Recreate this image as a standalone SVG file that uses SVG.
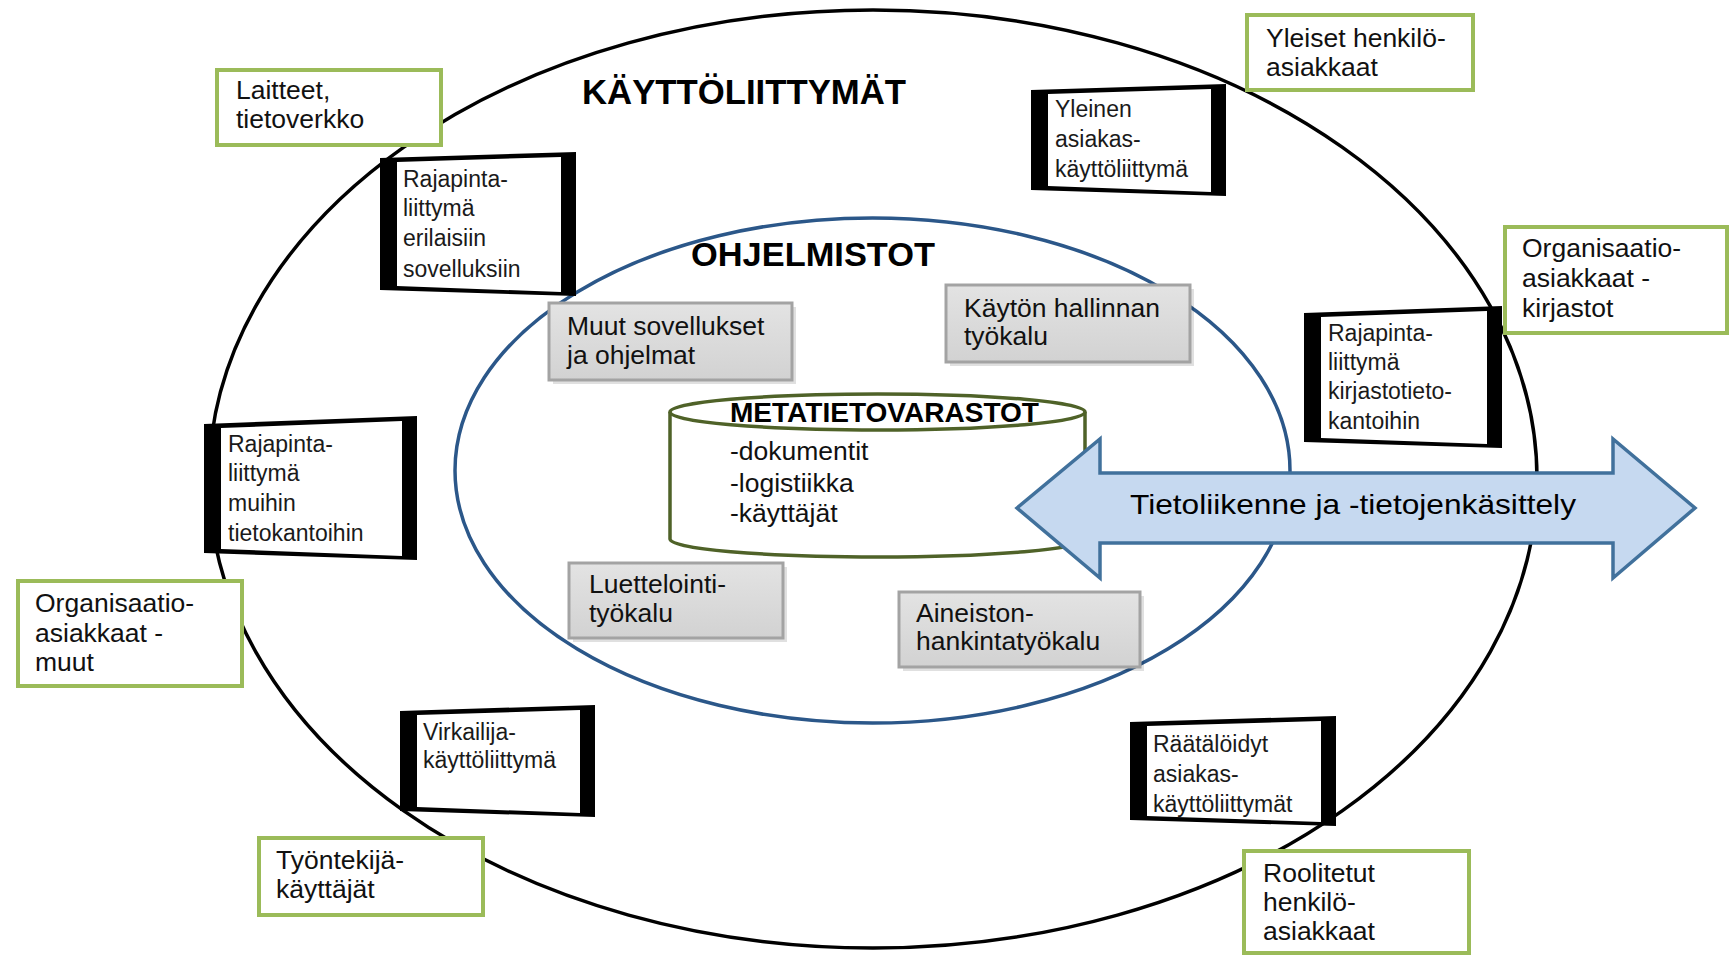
<svg xmlns="http://www.w3.org/2000/svg" width="1729" height="956" viewBox="0 0 1729 956">
<defs>
<style>
text{font-family:"Liberation Sans",Arial,sans-serif;fill:#000}
.title{font-weight:bold}
.g{font-size:26.5px;fill:#111}
.s{font-size:23px;fill:#1a1a1a}
.gb{fill:#ffffff;stroke:#9bbb59;stroke-width:4}
.gray{fill:url(#grayGrad);stroke:#a3a3a3;stroke-width:3}
.shadow{fill:#000;opacity:0.12}
.scr{fill:#000}
.scrIn{fill:#fff}
</style>
<linearGradient id="grayGrad" x1="0" y1="0" x2="0" y2="1">
<stop offset="0" stop-color="#e3e3e3"/>
<stop offset="1" stop-color="#d2d2d2"/>
</linearGradient>
</defs>
<rect x="0" y="0" width="1729" height="956" fill="#fff"/>

<g id="outer-ellipse">
<ellipse cx="873" cy="479" rx="664" ry="469" fill="none" stroke="#000" stroke-width="3.5"/>
</g>
<g id="inner-ellipse">
<ellipse cx="872.5" cy="470.5" rx="417.5" ry="252.5" fill="none" stroke="#2b5789" stroke-width="3.5"/>
</g>

<g id="title-kayttoliittymat"><text class="title" x="582" y="104" font-size="35" textLength="324" lengthAdjust="spacingAndGlyphs">KÄYTTÖLIITTYMÄT</text></g>
<g id="title-ohjelmistot"><text class="title" x="691" y="266" font-size="33" textLength="244" lengthAdjust="spacingAndGlyphs">OHJELMISTOT</text></g>

<g id="muut-sovellukset">
<rect class="shadow" x="553" y="307" width="243" height="77"/>
<rect class="gray" x="549" y="303" width="243" height="77"/>
<text class="g" x="567" y="335">Muut sovellukset</text>
<text class="g" x="567" y="364">ja ohjelmat</text>
</g>
<g id="kayton-hallinnan">
<rect class="shadow" x="950" y="289" width="244" height="77"/>
<rect class="gray" x="946" y="285" width="244" height="77"/>
<text class="g" x="964" y="317">Käytön hallinnan</text>
<text class="g" x="964" y="345">työkalu</text>
</g>
<g id="luettelointi">
<rect class="shadow" x="573" y="567" width="214" height="75"/>
<rect class="gray" x="569" y="563" width="214" height="75"/>
<text class="g" x="589" y="593">Luettelointi-</text>
<text class="g" x="589" y="622">työkalu</text>
</g>
<g id="aineiston">
<rect class="shadow" x="903" y="596" width="241" height="75"/>
<rect class="gray" x="899" y="592" width="241" height="75"/>
<text class="g" x="916" y="622">Aineiston-</text>
<text class="g" x="916" y="650">hankintatyökalu</text>
</g>

<g id="metatietovarastot">
<path d="M670,412 L670,539 A207.5,18 0 0 0 1085,539 L1085,412" fill="#fff" stroke="#4f6228" stroke-width="3.5"/>
<ellipse cx="877.5" cy="412" rx="207.5" ry="18" fill="#fff" stroke="#4f6228" stroke-width="3.5"/>
<text class="title" x="730" y="422" font-size="28" textLength="309" lengthAdjust="spacingAndGlyphs">METATIETOVARASTOT</text>
<text class="g" x="730" y="460" font-size="27">-dokumentit</text>
<text class="g" x="730" y="492" font-size="27">-logistiikka</text>
<text class="g" x="730" y="522" font-size="27">-käyttäjät</text>
</g>

<g id="connectors">
<g id="tietoliikenne-arrow">
<polygon points="1017,508 1100,439 1100,473 1613,473 1613,439 1695,508 1613,578 1613,543 1100,543 1100,578" fill="#c6d9f0" stroke="#41719c" stroke-width="3.5" stroke-linejoin="miter"/>
<text x="1130" y="514" font-size="28" textLength="446" lengthAdjust="spacingAndGlyphs" fill="#111">Tietoliikenne ja -tietojenkäsittely</text>
</g>
</g>

<g id="rajapinta-erilaisiin">
<polygon class="scr" points="380,158 576,152 576,296 380,290"/>
<polygon class="scrIn" points="397,162 561,157 561,292 397,286"/>
<text class="s" x="403" y="187">Rajapinta-</text>
<text class="s" x="403" y="216">liittymä</text>
<text class="s" x="403" y="246">erilaisiin</text>
<text class="s" x="403" y="277">sovelluksiin</text>
</g>
<g id="yleinen-asiakas">
<polygon class="scr" points="1031,90 1226,84 1226,196 1031,190"/>
<polygon class="scrIn" points="1048,94 1211,89 1211,192 1048,186"/>
<text class="s" x="1055" y="117">Yleinen</text>
<text class="s" x="1055" y="147">asiakas-</text>
<text class="s" x="1055" y="177">käyttöliittymä</text>
</g>
<g id="rajapinta-kirjasto">
<polygon class="scr" points="1304,313 1502,306 1502,448 1304,442"/>
<polygon class="scrIn" points="1321,317 1487,311 1487,444 1321,438"/>
<text class="s" x="1328" y="341">Rajapinta-</text>
<text class="s" x="1328" y="370">liittymä</text>
<text class="s" x="1328" y="399">kirjastotieto-</text>
<text class="s" x="1328" y="429">kantoihin</text>
</g>
<g id="rajapinta-muihin">
<polygon class="scr" points="204,424 417,416 417,560 204,553"/>
<polygon class="scrIn" points="221,428 402,421 402,556 221,549"/>
<text class="s" x="228" y="452">Rajapinta-</text>
<text class="s" x="228" y="481">liittymä</text>
<text class="s" x="228" y="511">muihin</text>
<text class="s" x="228" y="541">tietokantoihin</text>
</g>
<g id="virkailija">
<polygon class="scr" points="400,711 595,705 595,817 400,811"/>
<polygon class="scrIn" points="417,715 580,710 580,813 417,807"/>
<text class="s" x="423" y="740">Virkailija-</text>
<text class="s" x="423" y="768">käyttöliittymä</text>
</g>
<g id="raatalöidyt">
<polygon class="scr" points="1130,722 1336,716 1336,826 1130,820"/>
<polygon class="scrIn" points="1147,726 1321,721 1321,822 1147,816"/>
<text class="s" x="1153" y="752">Räätälöidyt</text>
<text class="s" x="1153" y="782">asiakas-</text>
<text class="s" x="1153" y="812">käyttöliittymät</text>
</g>

<g id="laitteet">
<rect class="gb" x="217" y="70" width="224" height="75"/>
<text class="g" x="236" y="99">Laitteet,</text>
<text class="g" x="236" y="128">tietoverkko</text>
</g>
<g id="yleiset-henkilo">
<rect class="gb" x="1247" y="15" width="226" height="75"/>
<text class="g" x="1266" y="47">Yleiset henkilö-</text>
<text class="g" x="1266" y="76">asiakkaat</text>
</g>
<g id="org-kirjastot">
<rect class="gb" x="1505" y="227" width="222" height="106"/>
<text class="g" x="1522" y="257">Organisaatio-</text>
<text class="g" x="1522" y="287">asiakkaat -</text>
<text class="g" x="1522" y="317">kirjastot</text>
</g>
<g id="org-muut">
<rect class="gb" x="18" y="581" width="224" height="105"/>
<text class="g" x="35" y="612">Organisaatio-</text>
<text class="g" x="35" y="642">asiakkaat -</text>
<text class="g" x="35" y="671">muut</text>
</g>
<g id="tyontekija">
<rect class="gb" x="259" y="838" width="224" height="77"/>
<text class="g" x="276" y="869">Työntekijä-</text>
<text class="g" x="276" y="898">käyttäjät</text>
</g>
<g id="roolitetut">
<rect class="gb" x="1244" y="851" width="225" height="102"/>
<text class="g" x="1263" y="882">Roolitetut</text>
<text class="g" x="1263" y="911">henkilö-</text>
<text class="g" x="1263" y="940">asiakkaat</text>
</g>
</svg>
